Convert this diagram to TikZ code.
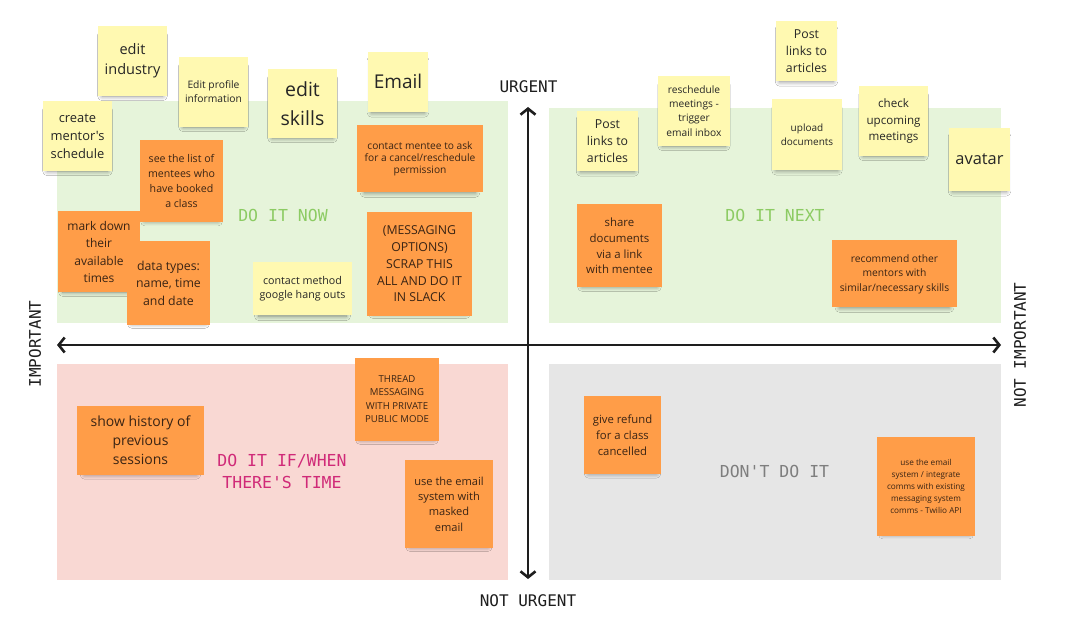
\documentclass[tikz,border=0pt]{standalone}
\usepackage{fontspec}
\setmainfont{Open Sans}
\newfontfamily\notef{Open Sans}
\newfontfamily\monof{DejaVu Sans Mono}
\usetikzlibrary{arrows.meta,shadows.blur}
\definecolor{noteY}{HTML}{FFF9B1}
\definecolor{noteO}{HTML}{FF9D48}
\definecolor{txtY}{HTML}{262626}
\definecolor{txtO}{HTML}{3A2414}
\definecolor{qgreen}{HTML}{E6F4DA}
\definecolor{qpink}{HTML}{F9D8D3}
\definecolor{qgrey}{HTML}{E6E6E6}
\definecolor{lgreen}{HTML}{8CCB63}
\definecolor{lpink}{HTML}{D02A78}
\definecolor{lgrey}{HTML}{7E7E7E}
\definecolor{axisc}{HTML}{1E1E1E}
\tikzset{
  fs/.style 2 args={font=\notef\fontsize{#1}{#2}\selectfont},
  note/.style={inner sep=0pt, align=center,
    blur shadow={shadow xshift=0pt, shadow yshift=-5pt, shadow scale=0.88,
      shadow opacity=45, shadow blur radius=5pt, shadow blur steps=8}},
  ynote/.style={note, fill=noteY, text=txtY},
  onote/.style={note, fill=noteO, text=txtO},
  quad/.style={inner sep=0pt, draw=none},
  qlabel/.style={font=\monof\fontsize{16.5}{22}\selectfont, align=center},
  axlabel/.style={font=\monof\fontsize{16}{20}\selectfont, text=axisc},
  axis/.style={line width=2.6pt, draw=axisc,
    {Straight Barb[length=6pt,width=15pt]}-{Straight Barb[length=6pt,width=15pt]}}
}
\begin{document}
\begin{tikzpicture}[x=1pt,y=-1pt]
\useasboundingbox[fill=white] (0,0) rectangle (1077,639);
% quadrants
\node[quad, fill=qgreen, minimum width=451pt, minimum height=222pt] (q1) at (282.5,212) {};
\node[quad, fill=qgreen, minimum width=452pt, minimum height=215pt] (q2) at (775,215.5) {};
\node[quad, fill=qpink, minimum width=451pt, minimum height=216pt] (q3) at (282.5,472) {};
\node[quad, fill=qgrey, minimum width=452pt, minimum height=216pt] (q4) at (775,472) {};
% quadrant labels
\node[qlabel, text=lgreen] (l1) at (283,215.5) {DO IT NOW};
\node[qlabel, text=lgreen] (l2) at (775,215.5) {DO IT NEXT};
\node[qlabel, text=lpink] (l3) at (282,471.5) {DO IT IF/WHEN\\THERE'S TIME};
\node[qlabel, text=lgrey] (l4) at (774.5,471.5) {DON'T DO IT};
% axes
\coordinate (hl) at (57,345);
\coordinate (hr) at (1001,345);
\coordinate (vt) at (528,107);
\coordinate (vb) at (528,579);
\draw[axis] (hl) -- (hr);
\draw[axis] (vt) -- (vb);
\node[axlabel] (urg) at (528.5,87) {URGENT};
\node[axlabel] (nurg) at (528,601) {NOT URGENT};
\node[axlabel, rotate=90] (imp) at (35,344) {IMPORTANT};
\node[axlabel, rotate=90] (nimp) at (1020,345) {NOT IMPORTANT};
% yellow notes
\node[ynote, fs={14.5}{20}, minimum width=69pt, minimum height=70pt] (y1) at (132.5,61) {edit\\industry};
\node[ynote, fs={10.3}{14}, minimum width=69pt, minimum height=70pt] (y2) at (213.5,92) {Edit profile\\information};
\node[ynote, fs={12.9}{18}, minimum width=69pt, minimum height=70pt] (y3) at (77.5,136) {create\\mentor's\\schedule};
\node[ynote, fs={19.5}{29}, minimum width=69pt, minimum height=69pt] (y4) at (302.5,103.5) {edit\\skills};
\node[ynote, fs={19}{24}, minimum width=60pt, minimum height=60pt] (y5) at (398,82) {\raisebox{2pt}{Email}};
\node[ynote, fs={10.7}{14.5}, minimum width=99pt, minimum height=53pt] (y6) at (302.5,288.5) {contact method\\google hang outs};
\node[ynote, fs={12.3}{16.7}, minimum width=61pt, minimum height=60pt] (y7) at (607.5,141) {Post\\links to\\articles};
\node[ynote, fs={10.2}{14.3}, minimum width=72pt, minimum height=70pt] (y8) at (694,111) {reschedule\\meetings -\\trigger\\email inbox};
\node[ynote, fs={12.3}{16.7}, minimum width=61pt, minimum height=60pt] (y9) at (806.5,51) {Post\\links to\\articles};
\node[ynote, fs={10}{14.3}, minimum width=70pt, minimum height=71pt] (y10) at (807,135) {upload\\documents};
\node[ynote, fs={11.6}{16.5}, minimum width=69pt, minimum height=70pt] (y11) at (893.5,121) {check\\upcoming\\meetings};
\node[ynote, fs={16.4}{22}, minimum width=61pt, minimum height=63pt] (y12) at (979.5,159.5) {avatar};
% orange notes
\node[onote, fs={10.6}{15}, minimum width=83pt, minimum height=82pt] (o1) at (181.5,181) {see the list of\\mentees who\\have booked\\a class};
\node[onote, fs={10.2}{12.2}, minimum width=126pt, minimum height=67pt] (o2) at (420,159) {contact mentee to ask\\for a cancel/reschedule\\permission};
\node[onote, fs={12}{17.3}, minimum width=82pt, minimum height=81pt] (o3) at (99,252) {mark down\\their\\available\\times};
\node[onote, fs={12.3}{17.5}, minimum width=83pt, minimum height=83pt] (o4) at (168.5,283) {data types:\\name, time\\and date};
\node[onote, fs={12.3}{16.7}, minimum width=105pt, minimum height=104pt] (o5) at (419.5,264) {(MESSAGING\\OPTIONS)\\SCRAP THIS\\ALL AND DO IT\\IN SLACK};
\node[onote, fs={11.4}{15.7}, minimum width=85pt, minimum height=83pt] (o6) at (619.5,246) {share\\documents\\via a link\\with mentee};
\node[onote, fs={10.3}{14.5}, minimum width=125pt, minimum height=67pt] (o7) at (894.5,274) {recommend other\\mentors with\\similar/necessary skills};
\node[onote, fs={14}{19}, minimum width=127pt, minimum height=69pt] (o8) at (140.5,440) {show history of\\previous\\sessions};
\node[onote, fs={9.6}{13.3}, minimum width=84pt, minimum height=83pt] (o9) at (397,399) {THREAD\\MESSAGING\\WITH PRIVATE\\PUBLIC MODE};
\node[onote, fs={11.1}{15.3}, minimum width=88pt, minimum height=88pt] (o10) at (449,504) {use the email\\system with\\masked\\email};
\node[onote, fs={11.3}{15.8}, minimum width=77pt, minimum height=78pt] (o11) at (622.5,435) {give refund\\for a class\\cancelled};
\node[onote, fs={8.2}{11.9}, minimum width=98pt, minimum height=99pt] (o12) at (926,486.5) {use the email\\system / integrate\\comms with existing\\messaging system\\comms - Twilio API};
\end{tikzpicture}
\end{document}
